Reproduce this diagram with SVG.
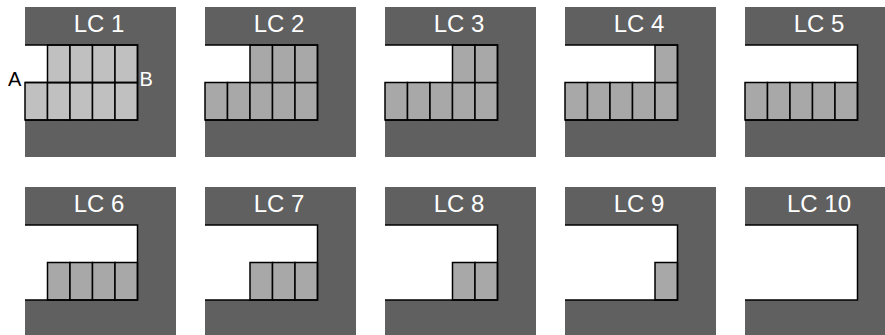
<svg xmlns="http://www.w3.org/2000/svg" xmlns:xlink="http://www.w3.org/1999/xlink" width="885" height="335" viewBox="0 0 885 335">
<style>
.panel{fill:#606060}
.slot{fill:#ffffff}
.edge{fill:none;stroke:#000;stroke-width:1.5}
.cell{fill:#a8a8a8;stroke:#000;stroke-width:1.5}
.cell1{fill:#c0c0c0;stroke:#000;stroke-width:1.5}
.title{font-family:"Liberation Sans",Arial,sans-serif;font-size:24px;fill:#ffffff;text-anchor:middle}
.lbl{font-family:"Liberation Sans",Arial,sans-serif;font-size:20px}
</style>
<defs>
<g id="base">
<rect class="panel" x="25" y="7" width="151" height="150"/>
<rect class="slot" x="25" y="45" width="112.5" height="75"/>
</g>
<rect id="c" class="cell" width="22.5" height="37.5"/>
<rect id="c1" class="cell1" width="22.5" height="37.5"/>
</defs>
<rect width="885" height="335" fill="#fff"/>
<g id="lc1">
<use xlink:href="#base"/>
<use xlink:href="#c1" x="25" y="82.5"/><use xlink:href="#c1" x="47.5" y="82.5"/><use xlink:href="#c1" x="70" y="82.5"/><use xlink:href="#c1" x="92.5" y="82.5"/><use xlink:href="#c1" x="115" y="82.5"/>
<use xlink:href="#c1" x="47.5" y="45"/><use xlink:href="#c1" x="70" y="45"/><use xlink:href="#c1" x="92.5" y="45"/><use xlink:href="#c1" x="115" y="45"/>
<path class="edge" d="M25 45H137.5V120H25"/>
<text class="title" x="99" y="32">LC 1</text>
<text class="lbl" x="8" y="86" fill="#000">A</text>
<text class="lbl" x="139.5" y="86" fill="#fff">B</text>
</g>
<g id="lc2" transform="translate(180,0)">
<use xlink:href="#base"/>
<use xlink:href="#c" x="25" y="82.5"/><use xlink:href="#c" x="47.5" y="82.5"/><use xlink:href="#c" x="70" y="82.5"/><use xlink:href="#c" x="92.5" y="82.5"/><use xlink:href="#c" x="115" y="82.5"/>
<use xlink:href="#c" x="70" y="45"/><use xlink:href="#c" x="92.5" y="45"/><use xlink:href="#c" x="115" y="45"/>
<path class="edge" d="M25 45H137.5V120H25"/>
<text class="title" x="99" y="32">LC 2</text>
</g>
<g id="lc3" transform="translate(360,0)">
<use xlink:href="#base"/>
<use xlink:href="#c" x="25" y="82.5"/><use xlink:href="#c" x="47.5" y="82.5"/><use xlink:href="#c" x="70" y="82.5"/><use xlink:href="#c" x="92.5" y="82.5"/><use xlink:href="#c" x="115" y="82.5"/>
<use xlink:href="#c" x="92.5" y="45"/><use xlink:href="#c" x="115" y="45"/>
<path class="edge" d="M25 45H137.5V120H25"/>
<text class="title" x="99" y="32">LC 3</text>
</g>
<g id="lc4" transform="translate(540,0)">
<use xlink:href="#base"/>
<use xlink:href="#c" x="25" y="82.5"/><use xlink:href="#c" x="47.5" y="82.5"/><use xlink:href="#c" x="70" y="82.5"/><use xlink:href="#c" x="92.5" y="82.5"/><use xlink:href="#c" x="115" y="82.5"/>
<use xlink:href="#c" x="115" y="45"/>
<path class="edge" d="M25 45H137.5V120H25"/>
<text class="title" x="99" y="32">LC 4</text>
</g>
<g id="lc5" transform="translate(720,0)">
<use xlink:href="#base"/>
<use xlink:href="#c" x="25" y="82.5"/><use xlink:href="#c" x="47.5" y="82.5"/><use xlink:href="#c" x="70" y="82.5"/><use xlink:href="#c" x="92.5" y="82.5"/><use xlink:href="#c" x="115" y="82.5"/>
<path class="edge" d="M25 45H137.5V120H25"/>
<text class="title" x="99" y="32">LC 5</text>
</g>
<g id="lc6" transform="translate(0,180)">
<use xlink:href="#base"/>
<use xlink:href="#c" x="47.5" y="82.5"/><use xlink:href="#c" x="70" y="82.5"/><use xlink:href="#c" x="92.5" y="82.5"/><use xlink:href="#c" x="115" y="82.5"/>
<path class="edge" d="M25 45H137.5V120H25"/>
<text class="title" x="99" y="32">LC 6</text>
</g>
<g id="lc7" transform="translate(180,180)">
<use xlink:href="#base"/>
<use xlink:href="#c" x="70" y="82.5"/><use xlink:href="#c" x="92.5" y="82.5"/><use xlink:href="#c" x="115" y="82.5"/>
<path class="edge" d="M25 45H137.5V120H25"/>
<text class="title" x="99" y="32">LC 7</text>
</g>
<g id="lc8" transform="translate(360,180)">
<use xlink:href="#base"/>
<use xlink:href="#c" x="92.5" y="82.5"/><use xlink:href="#c" x="115" y="82.5"/>
<path class="edge" d="M25 45H137.5V120H25"/>
<text class="title" x="99" y="32">LC 8</text>
</g>
<g id="lc9" transform="translate(540,180)">
<use xlink:href="#base"/>
<use xlink:href="#c" x="115" y="82.5"/>
<path class="edge" d="M25 45H137.5V120H25"/>
<text class="title" x="99" y="32">LC 9</text>
</g>
<g id="lc10" transform="translate(720,180)">
<use xlink:href="#base"/>
<path class="edge" d="M25 45H137.5V120H25"/>
<text class="title" x="99" y="32">LC 10</text>
</g>
<g id="connectors">
<line class="edge" x1="25" y1="82.5" x2="137.5" y2="82.5"/>
</g>
</svg>
